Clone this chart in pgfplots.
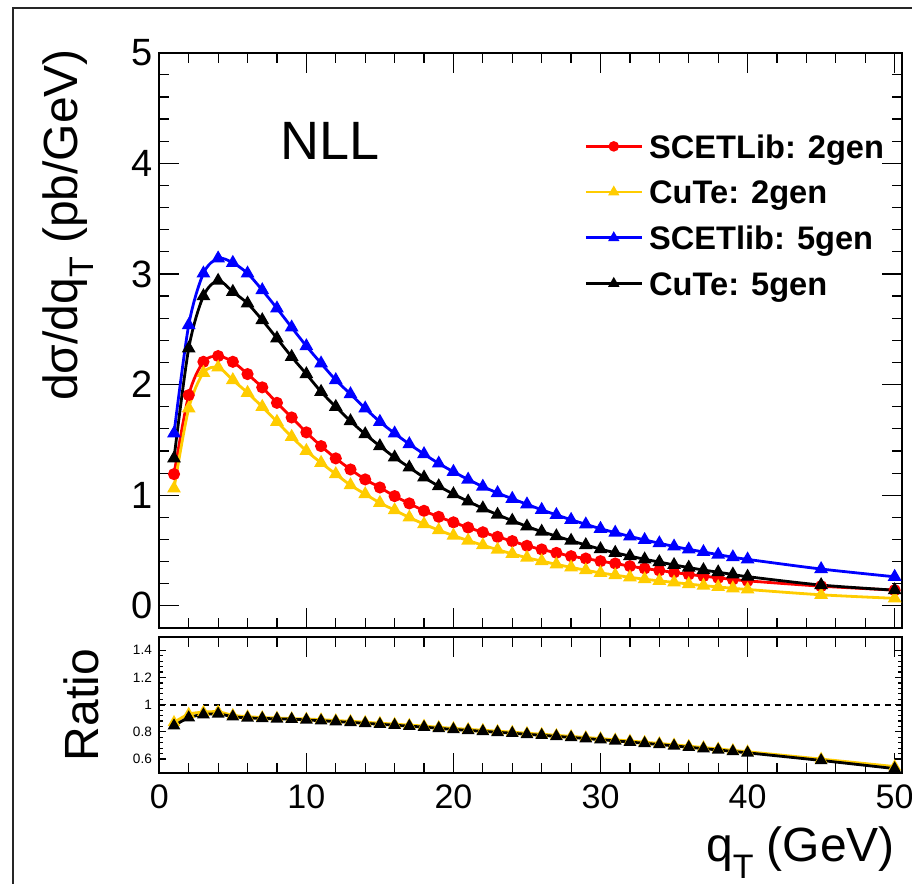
\documentclass[border=0pt]{standalone}
\usepackage{pgfplots}
\usepackage{pgfplotstable}
\pgfplotsset{compat=1.18}
\usepackage{fontspec}
\setmainfont{Liberation Sans}
\definecolor{cred}{RGB}{255,0,0}
\definecolor{cyel}{RGB}{255,204,0}
\definecolor{cblue}{RGB}{0,0,255}

\pgfplotstableread{
x y
1 1.191
2 1.905
3 2.206
4 2.258
5 2.206
6 2.095
7 1.975
8 1.835
9 1.703
10 1.568
11 1.444
12 1.333
13 1.233
14 1.143
15 1.070
16 0.992
17 0.926
18 0.859
19 0.805
20 0.755
21 0.708
22 0.665
23 0.624
24 0.585
25 0.543
26 0.510
27 0.479
28 0.449
29 0.428
30 0.404
31 0.383
32 0.359
33 0.338
34 0.320
35 0.302
36 0.284
37 0.269
38 0.253
39 0.239
40 0.226
45 0.178
50 0.142
}\redtab

\pgfplotstableread{
x y
1 1.061
2 1.785
3 2.107
4 2.155
5 2.041
6 1.926
7 1.799
8 1.664
9 1.528
10 1.401
11 1.293
12 1.191
13 1.091
14 1.010
15 0.931
16 0.865
17 0.799
18 0.739
19 0.684
20 0.635
21 0.590
22 0.548
23 0.508
24 0.470
25 0.435
26 0.405
27 0.375
28 0.348
29 0.322
30 0.298
31 0.278
32 0.258
33 0.241
34 0.226
35 0.212
36 0.197
37 0.183
38 0.171
39 0.159
40 0.148
45 0.100
50 0.068
}\yeltab

\pgfplotstableread{
x y
1 1.559
2 2.538
3 3.005
4 3.141
5 3.101
6 3.005
7 2.854
8 2.689
9 2.517
10 2.348
11 2.192
12 2.041
13 1.914
14 1.785
15 1.664
16 1.559
17 1.462
18 1.372
19 1.287
20 1.212
21 1.142
22 1.078
23 1.020
24 0.968
25 0.918
26 0.868
27 0.822
28 0.778
29 0.737
30 0.697
31 0.662
32 0.628
33 0.596
34 0.566
35 0.537
36 0.511
37 0.487
38 0.463
39 0.440
40 0.420
45 0.333
50 0.263
}\bluetab

\pgfplotstableread{
x y
1 1.333
2 2.327
3 2.800
4 2.939
5 2.839
6 2.734
7 2.583
8 2.418
9 2.251
10 2.095
11 1.935
12 1.799
13 1.670
14 1.552
15 1.444
16 1.342
17 1.251
18 1.161
19 1.082
20 1.010
21 0.944
22 0.882
23 0.824
24 0.770
25 0.718
26 0.671
27 0.630
28 0.589
29 0.550
30 0.513
31 0.480
32 0.450
33 0.421
34 0.396
35 0.370
36 0.346
37 0.324
38 0.304
39 0.284
40 0.264
45 0.188
50 0.142
}\blacktab

\pgfplotstableread{
x y
1 0.870
2 0.930
3 0.945
4 0.948
5 0.922
6 0.912
7 0.906
8 0.902
9 0.898
10 0.895
11 0.890
12 0.884
13 0.878
14 0.871
15 0.864
16 0.857
17 0.850
18 0.843
19 0.834
20 0.826
21 0.819
22 0.812
23 0.805
24 0.798
25 0.790
26 0.783
27 0.775
28 0.767
29 0.759
30 0.751
31 0.742
32 0.733
33 0.724
34 0.715
35 0.705
36 0.695
37 0.685
38 0.675
39 0.664
40 0.654
45 0.600
50 0.545
}\ryeltab

\pgfplotstableread{
x y
1 0.845
2 0.905
3 0.927
4 0.932
5 0.912
6 0.903
7 0.899
8 0.896
9 0.893
10 0.888
11 0.882
12 0.876
13 0.870
14 0.863
15 0.856
16 0.849
17 0.842
18 0.835
19 0.826
20 0.818
21 0.811
22 0.804
23 0.797
24 0.790
25 0.782
26 0.775
27 0.767
28 0.759
29 0.751
30 0.743
31 0.734
32 0.725
33 0.716
34 0.707
35 0.697
36 0.687
37 0.677
38 0.667
39 0.656
40 0.646
45 0.590
50 0.530
}\rblacktab

\pgfplotsset{
  rootstyle/.style={
    scale only axis,
    width=371.35pt,
    xmin=0, xmax=50.5,
    axis line style={line width=1pt},
    tick style={line width=0.6pt, black},
    major tick length=10pt,
    minor tick length=5pt,
    /pgf/number format/assume math mode=true,
  },
  series/.style={line width=1.4pt, smooth, tension=0.5, #1, mark options={solid, fill=#1, draw=#1}},
}

\begin{document}
\begin{tikzpicture}
\useasboundingbox (0pt,0pt) rectangle (456pt,442pt);
\draw[line width=1pt, black!85] (6.5pt,-2pt) -- (6.5pt,438pt) -- (458pt,438pt);

% ---------- upper panel
\begin{axis}[rootstyle,
  at={(79.65pt,128pt)}, anchor=south west,
  height=287.65pt,
  ymin=-0.2, ymax=5,
  xtick={0,10,...,50}, minor x tick num=4, xticklabels={},
  ytick={0,1,...,5}, minor y tick num=4,
  yticklabel style={font=\fontsize{19}{19}\selectfont, inner sep=0pt, xshift=-3pt},
  legend style={at={(0.5718,0.8582)}, anchor=north west, draw=none, fill=none,
    font=\bfseries\fontsize{16.3}{16.3}\selectfont, row sep=11.15pt, column sep=3pt,
    inner sep=0pt, nodes={inner sep=0pt, text height=11.7pt, text depth=0pt}},
  legend cell align=left,
  legend image code/.code={\draw[#1, smooth] (0pt,0pt) -- (28pt,0pt);
     \draw[#1, mark size=1.9pt] plot coordinates {(14pt,0pt)};},
]
\addplot[series=cred, mark=*, mark size=2.3pt] table {\redtab};
\addlegendentry{SCETLib: 2gen}
\addplot[series=cyel, mark=triangle*, mark size=2.6pt] table {\yeltab};
\addlegendentry{CuTe: 2gen}
\addplot[series=cblue, mark=triangle*, mark size=2.6pt] table {\bluetab};
\addlegendentry{SCETlib: 5gen}
\addplot[series=black, mark=triangle*, mark size=2.6pt] table {\blacktab};
\addlegendentry{CuTe: 5gen}
\node[font=\fontsize{27}{27}\selectfont, anchor=base] at (axis description cs:0.2298,0.8135) {NLL};
\end{axis}

% ---------- lower panel (x ticks and curves)
\begin{axis}[rootstyle,
  at={(79.65pt,55.65pt)}, anchor=south west,
  height=68pt,
  ymin=0.5, ymax=1.5,
  xtick={0,10,...,50}, minor x tick num=4,
  ytick=\empty,
  xticklabel style={font=\fontsize{17}{17}\selectfont, inner sep=0pt, yshift=-6pt},
]
\addplot[black, line width=1pt, dash pattern=on 3pt off 2.5pt] coordinates {(0,1) (50.5,1)};
\addplot[series=cyel, mark=triangle*, mark size=2.3pt] table {\ryeltab};
\addplot[series=black, mark=triangle*, mark size=2.3pt] table {\rblacktab};
\end{axis}

% ---------- lower panel (y ticks only)
\begin{axis}[scale only axis, width=371.35pt, height=68pt,
  at={(79.65pt,55.65pt)}, anchor=south west,
  xmin=0, xmax=50.5, ymin=0.5, ymax=1.5,
  xtick=\empty, axis line style={draw=none},
  ytick={0.6,0.8,1.0,1.2,1.4}, minor y tick num=4,
  major tick length=3.5pt, minor tick length=1.8pt,
  tick style={line width=0.6pt, black},
  /pgf/number format/assume math mode=true,
  yticklabel style={font=\fontsize{6.8}{6.8}\selectfont, inner sep=0pt, xshift=-3.5pt},
]
\addplot[draw=none] coordinates {(0,1)};
\end{axis}

% ---------- axis titles
\node[rotate=90, anchor=base east, font=\fontsize{24}{24}\selectfont] at (38.5pt,421pt)
  {dσ/dq\raisebox{-0.35em}{\fontsize{17}{17}\selectfont T} (pb/GeV)};
\node[rotate=90, anchor=base, font=\fontsize{24}{24}\selectfont] at (49pt,89.5pt) {Ratio};
\node[anchor=base east, font=\fontsize{24}{24}\selectfont] at (451pt,11pt)
  {q\raisebox{-0.35em}{\fontsize{17}{17}\selectfont T} (GeV)};
\end{tikzpicture}
\end{document}
